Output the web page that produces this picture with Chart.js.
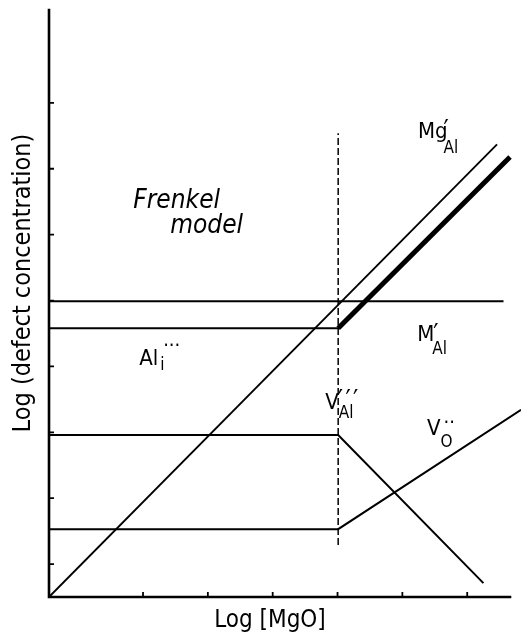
<!DOCTYPE html>
<html>
<head>
<meta charset="utf-8">
<script src="https://cdn.jsdelivr.net/npm/chart.js"></script>
<style>
  html, body { margin: 0; padding: 0; background: #fff; }
  #wrap { width: 521px; height: 637px; }
</style>
</head>
<body>
<div id="wrap"><canvas id="defect-chart" width="521" height="637"></canvas></div>
<script>
// axis ranges and tick positions (arbitrary log units)
const xMax = 7.11;
const yMax = 8.91;
const xTicks = [1.45, 2.45, 3.45, 4.45, 5.45, 6.45];
const yTicks = [0.5, 1.5, 2.5, 3.5, 4.5, 5.5, 6.5, 7.5];

// where the Frenkel regime ends (dashed line)
const breakX = 4.46;
const dashX = [breakX, breakX];
const dashY = [0.79, 7.04];

// Mg'_Al : slope 1 from origin
const mgAlX = [0, 6.91];
const mgAlY = [0, 6.87];

// upper unlabeled horizontal level
const upperX = [0, 7.01];
const upperY = [4.49, 4.49];

// Al_i... flat, then M'_Al rising (thick)
const alIX = [0, breakX];
const alIY = [4.08, 4.08];
const mAlX = [breakX, 7.11];
const mAlY = [4.08, 6.68];

// V'''_Al : flat then falling
const vAlX = [0, breakX, 6.70];
const vAlY = [2.46, 2.46, 0.21];

// V_O.. : flat then rising
const vOX = [0, breakX, 7.28];
const vOY = [1.03, 1.03, 2.84];

const FONT = "'DejaVu Sans Condensed', 'DejaVu Sans', sans-serif";
const PRIME = '\u2032';
const DOT = '\u00b7';

function pts(xs, ys) {
    return xs.map((x, i) => ({ x: x, y: ys[i] }));
}

function lineSet(label, xs, ys, width, dash) {
    return {
        label: label,
        data: pts(xs, ys),
        showLine: true,
        borderColor: '#000',
        borderWidth: width,
        borderDash: dash || [],
        pointRadius: 0,
        fill: false,
        tension: 0,
        clip: false
    };
}

// text annotations placed in data coordinates
const labels = [
    { x: 5.69, y: 6.97, text: 'Mg', sup: PRIME, sub: 'Al', supRise: -1, subDrop: 15, dx: -4, supDx: 0, supSize: 26 },
    { x: 5.68, y: 3.89, text: 'M', sup: PRIME, sub: 'Al', supRise: -2, subDrop: 13, dx: -2, supDx: 1, supSize: 26 },
    { x: 1.39, y: 3.52, text: 'Al', sup: DOT + DOT + DOT, sub: 'i', supRise: 13, subDrop: 5, dx: 2, supDx: 3, supSize: 20 },
    { x: 4.26, y: 2.85, text: 'V', sup: PRIME + '\u200a' + PRIME + '\u200a' + PRIME, sub: 'Al', supRise: 0, subDrop: 9, dx: 0, supDx: -1, supSize: 26 },
    { x: 5.83, y: 2.46, text: 'V', sup: DOT + DOT, sub: 'O', supRise: 6, subDrop: 12, dx: 0, supDx: 3, supSize: 20 },
    { x: 1.30, y: 5.90, text: 'Frenkel', italic: true },
    { x: 1.87, y: 5.52, text: 'model', italic: true }
];

const axesPlugin = {
    id: 'axesPlugin',
    afterDraw(chart) {
        const ctx = chart.ctx;
        const xs = chart.scales.x, ys = chart.scales.y;
        const x0 = xs.getPixelForValue(0), y0 = ys.getPixelForValue(0);
        ctx.save();
        ctx.strokeStyle = '#000';
        ctx.lineWidth = 2.6;
        ctx.lineCap = 'square';
        ctx.beginPath();
        ctx.moveTo(x0, ys.getPixelForValue(yMax));
        ctx.lineTo(x0, y0);
        ctx.lineTo(xs.getPixelForValue(xMax), y0);
        ctx.stroke();

        // inward ticks
        ctx.lineWidth = 1.8;
        ctx.lineCap = 'butt';
        ctx.beginPath();
        xTicks.forEach(v => {
            const p = xs.getPixelForValue(v);
            ctx.moveTo(p, y0);
            ctx.lineTo(p, y0 - 5);
        });
        yTicks.forEach(v => {
            const p = ys.getPixelForValue(v);
            ctx.moveTo(x0, p);
            ctx.lineTo(x0 + 5, p);
        });
        ctx.stroke();

        // axis titles
        ctx.fillStyle = '#000';
        ctx.font = '24px ' + FONT;
        ctx.textAlign = 'center';
        ctx.textBaseline = 'middle';
        ctx.fillText('Log [MgO]', 270, 621);
        ctx.translate(23, 283);
        ctx.rotate(-Math.PI / 2);
        ctx.font = '25px ' + FONT;
        ctx.fillText('Log (defect concentration)', 0, 0);
        ctx.restore();

        // species labels
        ctx.save();
        ctx.fillStyle = '#000';
        ctx.textAlign = 'left';
        ctx.textBaseline = 'alphabetic';
        labels.forEach(l => {
            const px = xs.getPixelForValue(l.x);
            const py = ys.getPixelForValue(l.y);
            ctx.font = (l.italic ? 'italic 26px ' : '22px ') + FONT;
            ctx.fillText(l.text, px, py);
            const w = ctx.measureText(l.text).width;
            if (l.sup) {
                ctx.font = l.supSize + 'px ' + FONT;
                ctx.fillText(l.sup, px + w + l.dx + l.supDx, py - l.supRise);
            }
            if (l.sub) {
                ctx.font = '17px ' + FONT;
                ctx.fillText(l.sub, px + w + l.dx, py + l.subDrop);
            }
        });
        ctx.restore();
    }
};

new Chart(document.getElementById('defect-chart'), {
    type: 'scatter',
    data: {
        datasets: [
            lineSet('dash', dashX, dashY, 1.5, [7, 3]),
            lineSet("Mg'Al", mgAlX, mgAlY, 1.8),
            lineSet('upper', upperX, upperY, 2),
            lineSet('Ali', alIX, alIY, 2),
            lineSet("M'Al", mAlX, mAlY, 5),
            lineSet("V'''Al", vAlX, vAlY, 2),
            lineSet('VO', vOX, vOY, 2)
        ]
    },
    options: {
        responsive: false,
        animation: false,
        layout: { padding: { left: 49, top: 10, right: 11, bottom: 40 } },
        scales: {
            x: { type: 'linear', min: 0, max: xMax, display: false },
            y: { type: 'linear', min: 0, max: yMax, display: false }
        },
        plugins: {
            legend: { display: false },
            tooltip: { enabled: false }
        }
    },
    plugins: [axesPlugin]
});
</script>
</body>
</html>
